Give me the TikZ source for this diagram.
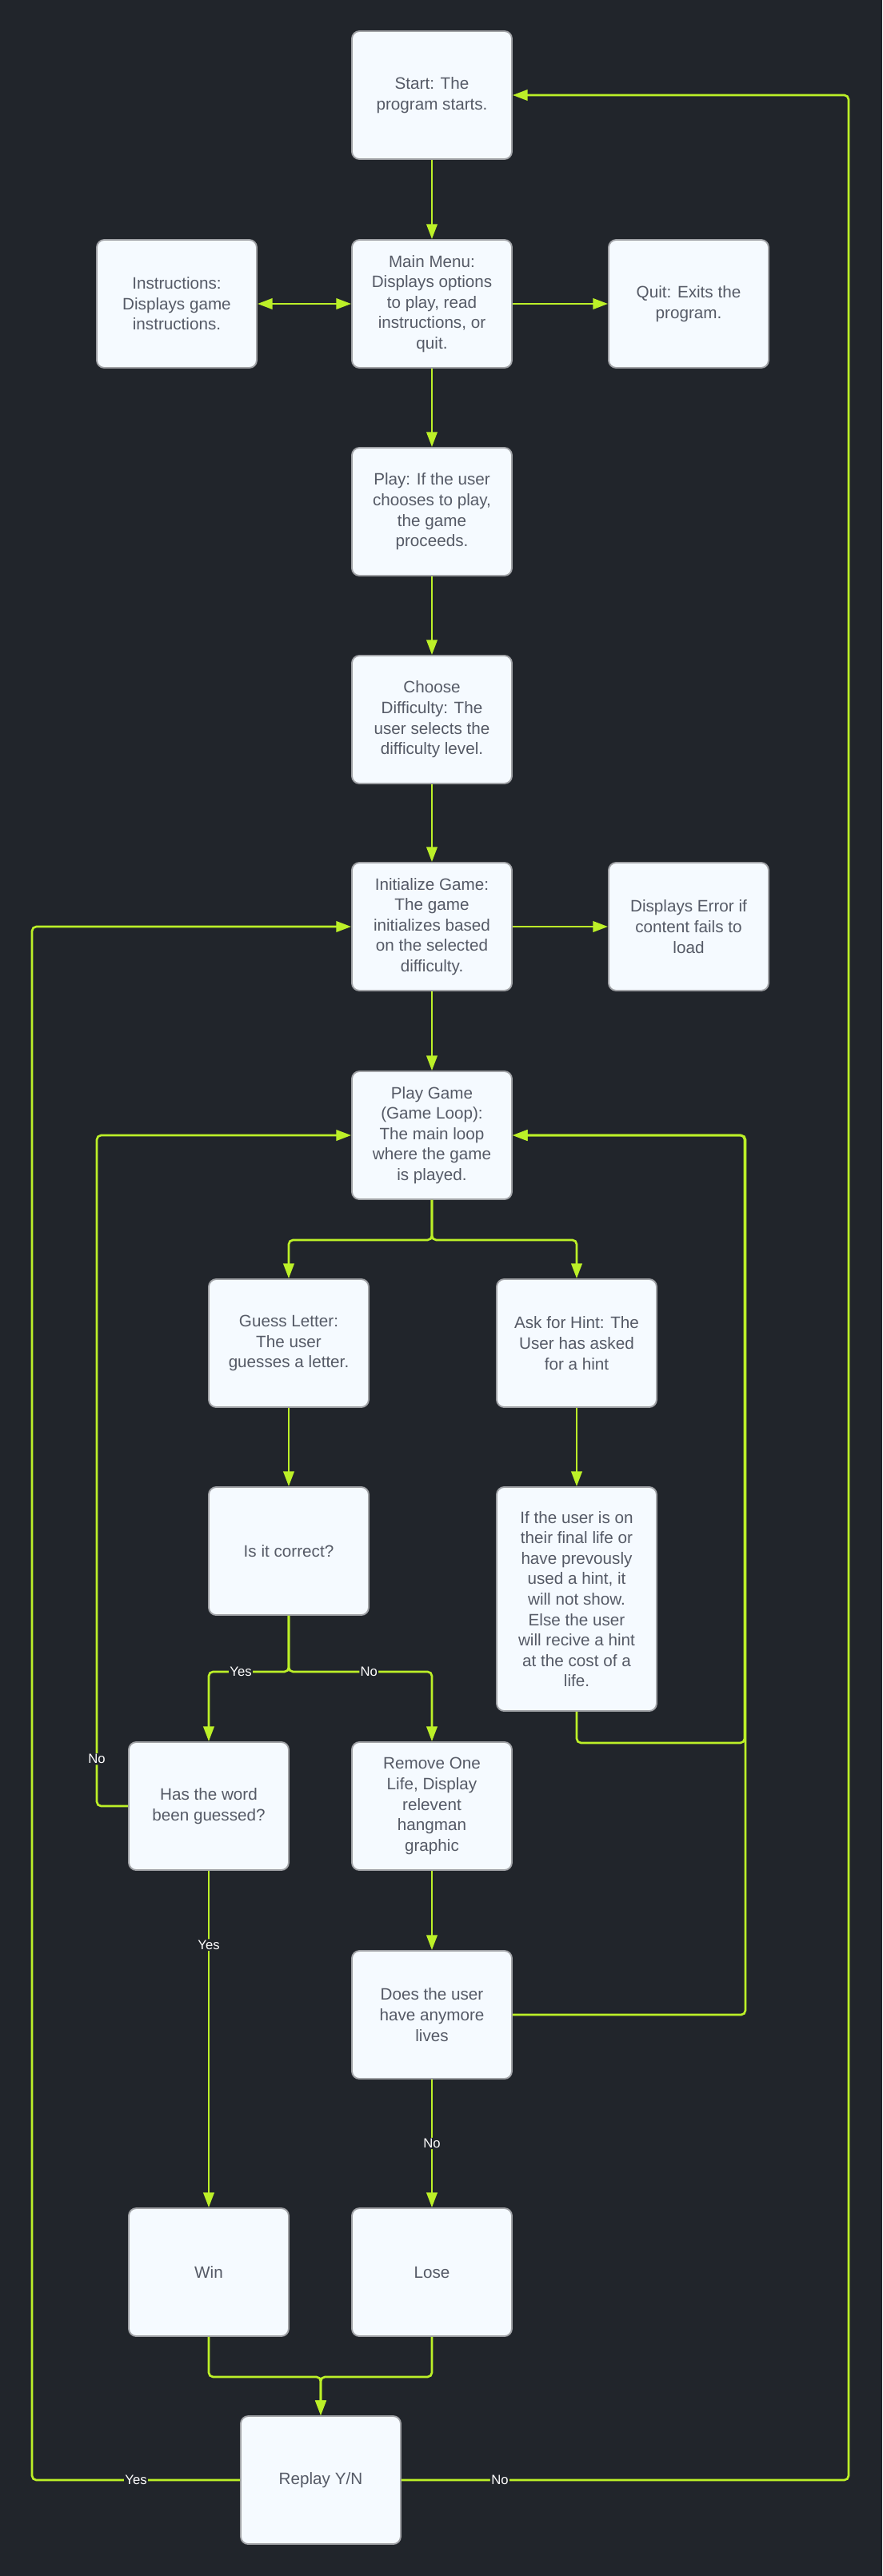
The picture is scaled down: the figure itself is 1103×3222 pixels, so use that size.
\documentclass[tikz,border=0pt]{standalone}
\usepackage{fontspec}
\setmainfont{Liberation Sans}
\usetikzlibrary{arrows.meta}
\definecolor{bgdark}{RGB}{33,37,43}
\definecolor{flowgreen}{RGB}{188,240,40}
\definecolor{boxfill}{RGB}{245,250,255}
\definecolor{boxline}{RGB}{160,162,166}
\definecolor{boxtext}{RGB}{85,90,102}
\begin{document}
\begin{tikzpicture}
  [x=0.75pt,y=-0.75pt,>={Triangle[length=14pt,width=10pt]},
   every node/.style={font=\fontsize{15.5}{19.2}\selectfont},
   stepbox/.style={draw=boxline,line width=1.4pt,fill=boxfill,rounded corners=7pt,text=boxtext,align=center,minimum width=150pt,minimum height=120pt,inner sep=2pt},
   flow/.style={draw=flowgreen,line width=2pt,rounded corners=4pt,->},
   lbl/.style={fill=bgdark,text=white,font=\fontsize{12.5}{14}\selectfont,inner sep=1pt}]
  \fill[bgdark] (0,0) rectangle (1103,3222);

  \node[stepbox] (start) at (540,119) {Start: The\\program starts.};
  \node[stepbox] (instr) at (221,380) {Instructions:\\Displays game\\instructions.};
  \node[stepbox] (menu) at (540,380) {Main Menu:\\Displays options\\to play, read\\instructions, or\\quit.};
  \node[stepbox] (quit) at (861,380) {Quit: Exits the\\program.};
  \node[stepbox] (play) at (540,640) {Play: If the user\\chooses to play,\\the game\\proceeds.};
  \node[stepbox] (choose) at (540,900) {Choose\\Difficulty: The\\user selects the\\difficulty level.};
  \node[stepbox] (init) at (540,1159) {Initialize Game:\\The game\\initializes based\\on the selected\\difficulty.};
  \node[stepbox] (error) at (861,1159) {Displays Error if\\content fails to\\load};
  \node[stepbox] (game) at (540,1420) {Play Game\\(Game Loop):\\The main loop\\where the game\\is played.};
  \node[stepbox] (guess) at (361,1680) {Guess Letter:\\The user\\guesses a letter.};
  \node[stepbox] (hint) at (721,1680) {Ask for Hint: The\\User has asked\\for a hint};
  \node[stepbox] (correct) at (361,1940) {Is it correct?};
  \node[stepbox,minimum height=210pt] (hintinfo) at (721,2000) {If the user is on\\their final life or\\have prevously\\used a hint, it\\will not show.\\Else the user\\will recive a hint\\at the cost of a\\life.};
  \node[stepbox] (guessed) at (261,2259) {Has the word\\been guessed?};
  \node[stepbox] (remove) at (540,2259) {Remove One\\Life, Display\\relevent\\hangman\\graphic};
  \node[stepbox] (lives) at (540,2520) {Does the user\\have anymore\\lives};
  \node[stepbox] (win) at (261,2842) {Win};
  \node[stepbox] (lose) at (540,2842) {Lose};
  \node[stepbox] (replay) at (401,3102) {Replay Y/N};

  \foreach \from/\to in {start/menu,menu/quit,menu/play,play/choose,choose/init,init/error,init/game,guess/correct,hint/hintinfo,remove/lives}
    \draw[flow] (\from) -- (\to);
  \draw[flow,<->] (instr) -- (menu);

  \draw[flow] (game.south) -- ++(0,50) -| (guess.north);
  \draw[flow] (game.south) -- ++(0,50) -| (hint.north);
  \draw[flow] (correct.south) -- ++(0,70) -| node[lbl,pos=0.3] {Yes} (guessed.north);
  \draw[flow] (correct.south) -- ++(0,70) -| node[lbl,pos=0.28] {No} (remove.north);
  \draw[flow] (hintinfo.south) -- ++(0,39) -- ++(210,0) |- (game.east);
  \draw[flow] (lives.east) -- ++(291,0) |- (game.east);
  \draw[flow] (guessed.west) -- ++(-39,0) |- node[lbl,pos=0.035] {No} (game.west);
  \draw[flow] (guessed) -- node[lbl,pos=0.22] {Yes} (win);
  \draw[flow] (lives) -- node[lbl] {No} (lose);
  \draw[flow] (win.south) -- ++(0,50) -| (replay.north);
  \draw[flow] (lose.south) -- ++(0,50) -| (replay.north);
  \draw[flow] (replay.west) -- node[lbl] {Yes} ++(-260,0) |- (init.west);
  \draw[flow] (replay.east) -- node[lbl,pos=0.22] {No} ++(559,0) |- (start.east);

\end{tikzpicture}
\end{document}
